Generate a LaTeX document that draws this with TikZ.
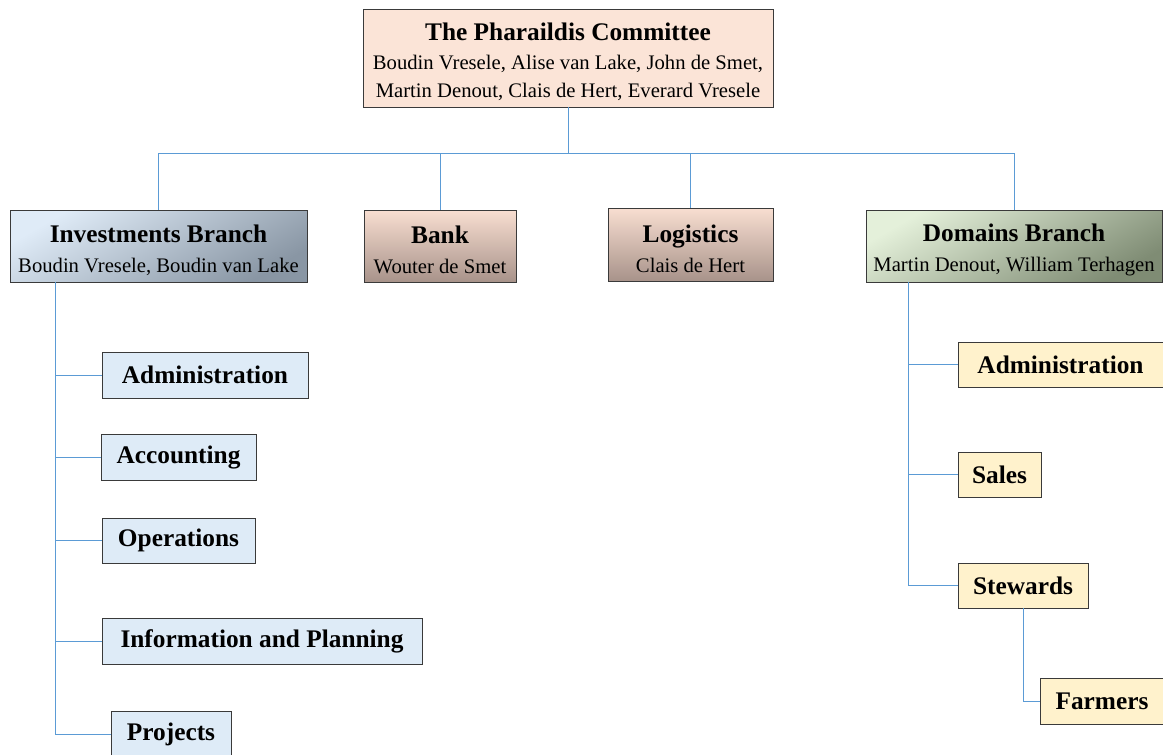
\documentclass[tikz,border=0pt]{standalone}
\usepackage{fontspec}
\setmainfont{Liberation Serif}
\usetikzlibrary{shadows}
\definecolor{lnk}{HTML}{5B9BD5}
\definecolor{bordc}{HTML}{3A3A3A}
\definecolor{peach}{HTML}{FBE4D7}
\definecolor{invA}{HTML}{DFEBF7}
\definecolor{invB}{HTML}{8996A4}
\definecolor{bkA}{HTML}{F8DED1}
\definecolor{bkB}{HTML}{A8938A}
\definecolor{domA}{HTML}{E4F0DA}
\definecolor{domB}{HTML}{7F8C74}
\definecolor{subblue}{HTML}{DEEBF7}
\definecolor{subyel}{HTML}{FFF2CC}
\newcommand{\ttl}[1]{{\fontsize{19}{21.5}\selectfont\bfseries #1}}
\tikzset{
  box/.style={draw=bordc, line width=0.6pt, inner sep=0pt, align=center,
    drop shadow={shadow xshift=0.8pt, shadow yshift=-0.8pt, opacity=0.25}},
  txt/.style={inner sep=0pt, align=center, font=\fontsize{15.5}{22.5}\selectfont},
  invbox/.style={box, top color=invA, bottom color=invB, shading angle=30},
  bkbox/.style={box, top color=bkA, bottom color=bkB},
  dombox/.style={box, top color=domA, bottom color=domB, shading angle=30},
  bluesub/.style={box, fill=subblue, font=\fontsize{19}{22}\selectfont\bfseries},
  yelsub/.style={box, fill=subyel, font=\fontsize{19}{22}\selectfont\bfseries},
  conn/.style={draw=lnk, line width=0.75pt}
}
\begin{document}
\begin{tikzpicture}[x=0.75pt, y=-0.75pt]
\useasboundingbox (0,0) rectangle (1163,754);
\clip (0,0) rectangle (1163,754);
% top level boxes
\node[box, fill=peach, minimum width=307.5pt, minimum height=73.5pt] (comm) at (568,58) {};
\node[txt, font=\fontsize{15.5}{21.5}\selectfont] (commt) at (568,62)
  {\ttl{The Pharaildis Committee}\\Boudin Vresele, Alise van Lake, John de Smet,\\Martin Denout, Clais de Hert, Everard Vresele};
\node[invbox, minimum width=222.75pt, minimum height=54pt] (inv) at (158.5,246) {};
\node[txt] (invt) at (158.5,250) {\ttl{Investments Branch}\\Boudin Vresele, Boudin van Lake};
\node[bkbox, minimum width=114pt, minimum height=54pt] (bank) at (440,246) {};
\node[txt] (bankt) at (440,250) {\ttl{Bank}\\Wouter de Smet};
\node[bkbox, minimum width=123.75pt, minimum height=54.75pt] (logi) at (690.5,244.5) {};
\node[txt] (logit) at (690.5,248.5) {\ttl{Logistics}\\Clais de Hert};
\node[dombox, minimum width=222pt, minimum height=54pt] (dom) at (1014,246) {};
\node[txt] (domt) at (1014,250) {\ttl{Domains Branch}\\Martin Denout, William Terhagen};
% investments subs
\node[bluesub, minimum width=154.5pt, minimum height=34.5pt] (iadm) at (205,375) {Administration};
\node[bluesub, minimum width=116.25pt, minimum height=34.5pt] (iacc) at (178.5,457) {Accounting};
\node[bluesub, minimum width=114.75pt, minimum height=33.75pt] (iops) at (178.5,540.5) {Operations};
\node[bluesub, minimum width=240pt, minimum height=34.5pt] (iinf) at (262,641) {Information and Planning};
\node[bluesub, minimum width=90pt, minimum height=34.5pt] (iprj) at (171,734) {Projects};
% domains subs
\node[yelsub, minimum width=153.75pt, minimum height=33.75pt] (dadm) at (1060.5,364.5) {Administration};
\node[yelsub, minimum width=62.25pt, minimum height=33.75pt] (dsal) at (999.5,474.5) {Sales};
\node[yelsub, minimum width=97.5pt, minimum height=33.75pt] (dste) at (1023,585.5) {Stewards};
\node[yelsub, minimum width=93pt, minimum height=34.5pt] (dfar) at (1102,701) {Farmers};
% connectors
\coordinate (bus) at (568,153);
\coordinate (lsp) at (55,282);
\coordinate (rsp) at (908,282);
\draw[conn] (comm.south) -- (bus);
\draw[conn] (bus) -| (inv.north);
\draw[conn] (bus) -| (bank.north);
\draw[conn] (bus) -| (logi.north);
\draw[conn] (bus) -| (dom.north);
\draw[conn] (lsp) |- (iadm.west);
\draw[conn] (lsp) |- (iacc.west);
\draw[conn] (lsp) |- (iops.west);
\draw[conn] (lsp) |- (iinf.west);
\draw[conn] (lsp) |- (iprj.west);
\draw[conn] (rsp) |- (dadm.west);
\draw[conn] (rsp) |- (dsal.west);
\draw[conn] (rsp) |- (dste.west);
\draw[conn] (dste.south) |- (dfar.west);
\end{tikzpicture}
\end{document}
